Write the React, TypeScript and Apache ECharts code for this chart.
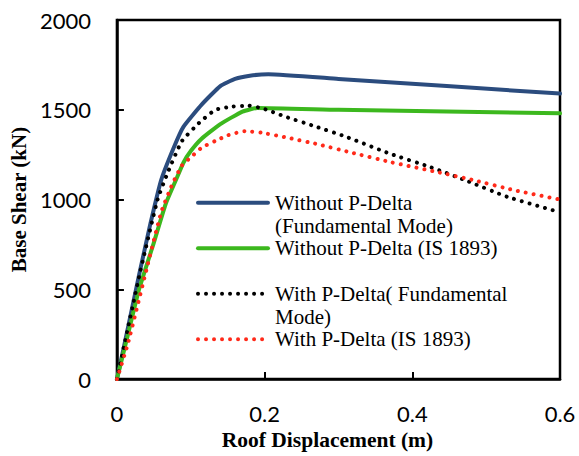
import React, { useEffect, useRef } from "react";
import * as echarts from "echarts";

// Pushover curves: roof displacement (m) vs base shear (kN)
const SERIES_NAMES = [
  "Without P-Delta (Fundamental Mode)",
  "Without P-Delta (IS 1893)",
  "With P-Delta( Fundamental Mode)",
  "With P-Delta (IS 1893)",
];

// legend text, wrapped the way it is printed beside each swatch
const LEGEND_LINES = [
  ["Without P-Delta", "(Fundamental Mode)"],
  ["Without P-Delta (IS 1893)"],
  ["With P-Delta( Fundamental", "Mode)"],
  ["With P-Delta (IS 1893)"],
];

const X_TICKS = [0, 0.2, 0.4, 0.6];
const Y_TICKS = [0, 500, 1000, 1500, 2000];

const withoutPDeltaFundamental: [number, number][] = [
  [0, 0], [0.01, 190], [0.03, 580], [0.045, 860], [0.06, 1110], [0.077, 1290],
  [0.09, 1405], [0.115, 1530], [0.14, 1632], [0.16, 1672], [0.18, 1690],
  [0.205, 1698], [0.3, 1672], [0.6, 1590],
];

const withoutPDeltaIS1893: [number, number][] = [
  [0, 0], [0.015, 250], [0.03, 500], [0.05, 760], [0.066, 975], [0.08, 1110],
  [0.09, 1205], [0.1, 1270], [0.115, 1340], [0.14, 1420], [0.17, 1490],
  [0.19, 1510], [0.3, 1500], [0.6, 1480],
];

const withPDeltaFundamental: [number, number][] = [
  [0, 0], [0.03, 570], [0.055, 1000], [0.07, 1162], [0.088, 1326], [0.111, 1426],
  [0.133, 1499], [0.156, 1518], [0.178, 1523], [0.2, 1504], [0.227, 1463],
  [0.268, 1408], [0.31, 1350], [0.37, 1255], [0.425, 1180], [0.474, 1104],
  [0.528, 1016], [0.6, 929],
];

const withPDeltaIS1893: [number, number][] = [
  [0, 0], [0.015, 200], [0.04, 610], [0.06, 930], [0.075, 1085], [0.088, 1190],
  [0.1, 1235], [0.115, 1290], [0.133, 1326], [0.151, 1359], [0.173, 1381],
  [0.196, 1372], [0.227, 1348], [0.272, 1308], [0.317, 1262], [0.371, 1208],
  [0.434, 1153], [0.483, 1108], [0.537, 1053], [0.6, 1000],
];

const SERIES_DATA = [
  withoutPDeltaFundamental,
  withoutPDeltaIS1893,
  withPDeltaFundamental,
  withPDeltaIS1893,
];

const COLORS = ["#2B4C7E", "#3CB81E", "#000000", "#FF2A1A"];
const DOTTED = [false, false, true, true];

const SERIF = "'Liberation Serif', 'Times New Roman', serif";
const SANS = "Lato, 'Open Sans', sans-serif";

const W = 579;
const H = 456;

const DOT_DASH = [0.01, 8];

const lineStyleFor = (i: number) =>
  DOTTED[i]
    ? { color: COLORS[i], width: 4, type: DOT_DASH, cap: "round" }
    : { color: COLORS[i], width: 4, type: "solid", cap: "round", join: "round" };

// Key box: swatch line + wrapped label for each series, in canvas pixels
function buildLegend() {
  const left = 198;
  const swatch = 70;
  const textX = left + swatch + 7;
  const firstRow = 202.7;
  const rowStep = 45.5;
  const lineHeight = 23.5;
  const font = { fontFamily: SERIF, fontSize: 21, fill: "#000" };

  const children: any[] = [];
  SERIES_NAMES.forEach((_, i) => {
    const cy = firstRow + i * rowStep;
    children.push({
      type: "line",
      silent: true,
      shape: { x1: left, y1: cy, x2: left + swatch, y2: cy },
      style: {
        stroke: COLORS[i],
        lineWidth: 4,
        lineCap: "round",
        lineDash: DOTTED[i] ? DOT_DASH : null,
      },
    });
    LEGEND_LINES[i].forEach((text, k) => {
      children.push({
        type: "text",
        silent: true,
        x: textX,
        y: cy + k * lineHeight,
        style: { ...font, text, verticalAlign: "middle", align: "left" },
      });
    });
  });
  return [{ type: "group", children, z: 10 }];
}

export default function App() {
  const ref = useRef<HTMLDivElement>(null);

  useEffect(() => {
    if (!ref.current) return;
    const chart = echarts.init(ref.current, undefined, {
      renderer: "svg",
      width: W,
      height: H,
    });

    chart.setOption({
      animation: false,
      backgroundColor: "#ffffff",
      grid: {
        left: 114.5,
        right: 19,
        top: 20,
        bottom: 70,
        show: true,
        borderColor: "#000",
        borderWidth: 2.5,
        containLabel: false,
      },
      xAxis: {
        type: "value",
        min: X_TICKS[0],
        max: X_TICKS[X_TICKS.length - 1],
        interval: 0.2,
        name: "Roof Displacement (m)",
        nameLocation: "middle",
        nameGap: 48,
        nameTextStyle: {
          fontFamily: SERIF,
          fontWeight: "bold",
          fontSize: 21.5,
          color: "#000",
          lineHeight: 22,
          padding: [0, 22, 0, 0],
        },
        axisLine: { show: true, lineStyle: { color: "#000", width: 2.5 } },
        axisTick: { show: true, inside: true, length: 7, lineStyle: { color: "#000", width: 2 } },
        splitLine: { show: false },
        axisLabel: {
          fontFamily: SANS,
          fontSize: 22,
          color: "#000",
          lineHeight: 20,
          margin: 24,
          formatter: (v: number) => String(+v.toFixed(1)),
        },
      },
      yAxis: {
        type: "value",
        min: Y_TICKS[0],
        max: Y_TICKS[Y_TICKS.length - 1],
        interval: 500,
        name: "Base Shear (kN)",
        nameLocation: "middle",
        nameGap: 87,
        nameTextStyle: {
          fontFamily: SERIF,
          fontWeight: "bold",
          fontSize: 21,
          color: "#000",
        },
        axisLine: { show: true, lineStyle: { color: "#000", width: 2.5 } },
        axisTick: { show: true, inside: true, length: 7, lineStyle: { color: "#000", width: 2 } },
        splitLine: { show: false },
        axisLabel: {
          fontFamily: SANS,
          fontSize: 22,
          color: "#000",
          margin: 26,
          formatter: (v: number) => String(v),
        },
      },
      graphic: buildLegend(),
      series: SERIES_NAMES.map((name, i) => ({
        name,
        type: "line",
        data: SERIES_DATA[i],
        symbol: "none",
        showSymbol: false,
        smooth: 0.15,
        lineStyle: lineStyleFor(i),
        itemStyle: { color: COLORS[i] },
        z: 2 + i,
      })),
    });

    return () => chart.dispose();
  }, []);

  return (
    <div
      ref={ref}
      style={{ position: "fixed", left: 0, top: 0, width: W, height: H }}
    />
  );
}
